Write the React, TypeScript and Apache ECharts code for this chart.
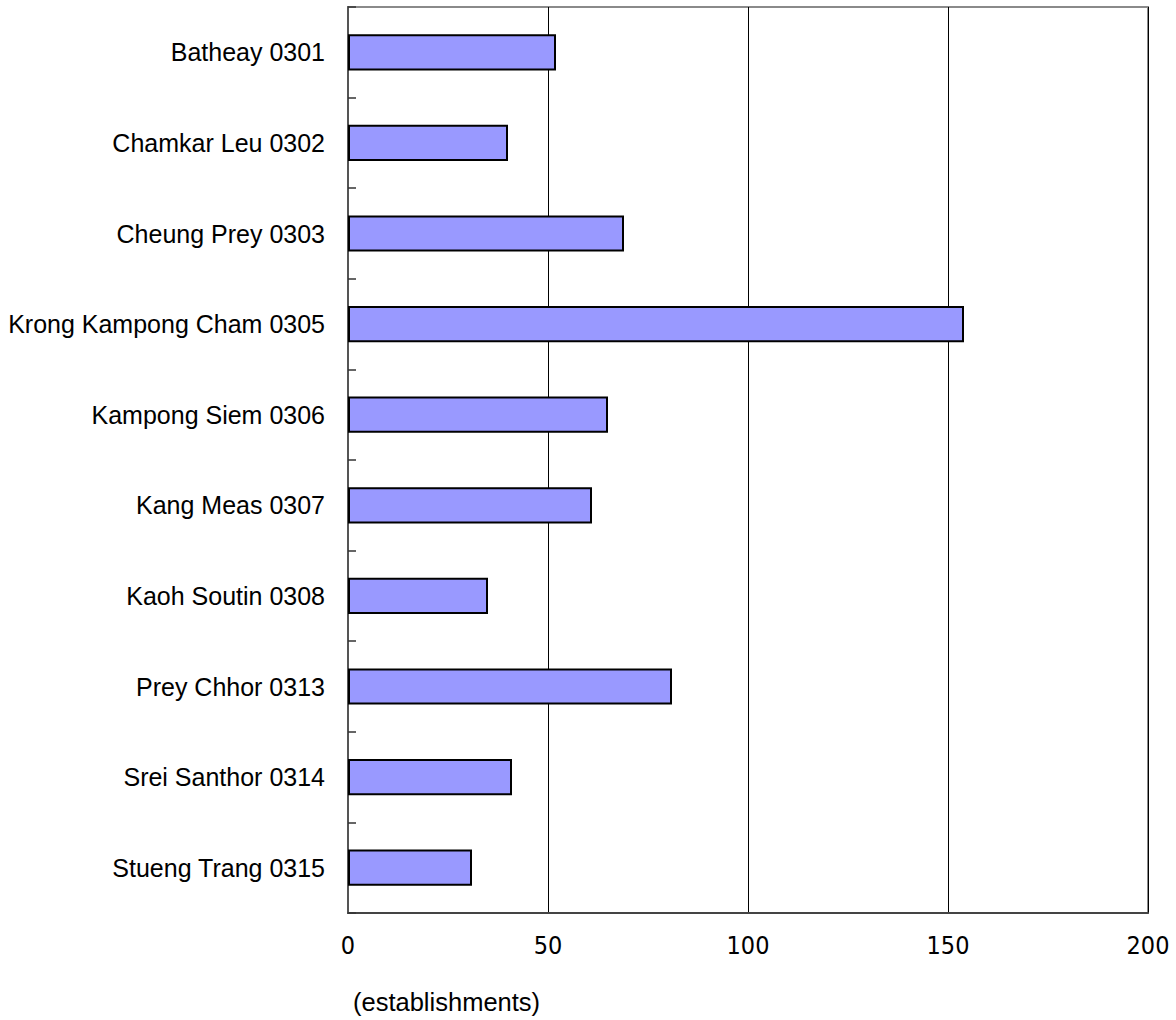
import React, { useEffect, useRef } from "react";
import * as echarts from "echarts";

const categories = [
  "Batheay 0301",
  "Chamkar Leu 0302",
  "Cheung Prey 0303",
  "Krong Kampong Cham 0305",
  "Kampong Siem 0306",
  "Kang Meas 0307",
  "Kaoh Soutin 0308",
  "Prey Chhor 0313",
  "Srei Santhor 0314",
  "Stueng Trang 0315",
];
const values = [52, 40, 69, 154, 65, 61, 35, 81, 41, 31];
const xMin = 0;
const xMax = 200;
const xInterval = 50;
const unitLabel = "(establishments)";

export default function App() {
  const ref = useRef<HTMLDivElement>(null);
  useEffect(() => {
    if (!ref.current) return;
    const chart = echarts.init(ref.current, undefined, { renderer: "svg" });
    chart.setOption({
      animation: false,
      backgroundColor: "#ffffff",
      grid: {
        left: 348,
        right: 28,
        top: 7,
        bottom: 107,
        show: true,
        borderColor: "#8a8a8a",
        borderWidth: 2,
        containLabel: false,
      },
      xAxis: {
        type: "value",
        min: xMin,
        max: xMax,
        interval: xInterval,
        axisLine: { show: true, lineStyle: { color: "#444", width: 2 } },
        axisTick: { show: false },
        splitLine: { show: true, lineStyle: { color: "#000", width: 1 } },
        axisLabel: {
          color: "#000",
          fontSize: 25,
          fontFamily: "'Liberation Sans Narrow', 'DejaVu Sans Condensed', sans-serif",
          margin: 20,
        },
      },
      yAxis: {
        type: "category",
        data: categories,
        inverse: true,
        axisLine: { show: true, lineStyle: { color: "#555", width: 2 } },
        axisTick: {
          show: true,
          inside: true,
          length: 8,
          lineStyle: { color: "#333", width: 1.5 },
        },
        axisLabel: {
          color: "#000",
          fontSize: 25,
          fontFamily: "'Liberation Sans', Arial, sans-serif",
          margin: 23,
        },
        splitLine: { show: false },
      },
      series: [
        {
          type: "bar",
          data: values,
          barWidth: "40%",
          itemStyle: {
            color: "#9999ff",
            borderColor: "#000",
            borderWidth: 2,
          },
        },
      ],
      graphic: [
        {
          type: "text",
          left: 353,
          top: 989,
          style: {
            text: unitLabel,
            fill: "#000",
            fontSize: 25.5,
            fontFamily: "'Liberation Sans', Arial, sans-serif",
          },
        },
      ],
    });
    return () => chart.dispose();
  }, []);
  return (
    <div
      ref={ref}
      style={{ position: "fixed", left: 0, top: 0, width: 1176, height: 1020 }}
    />
  );
}
